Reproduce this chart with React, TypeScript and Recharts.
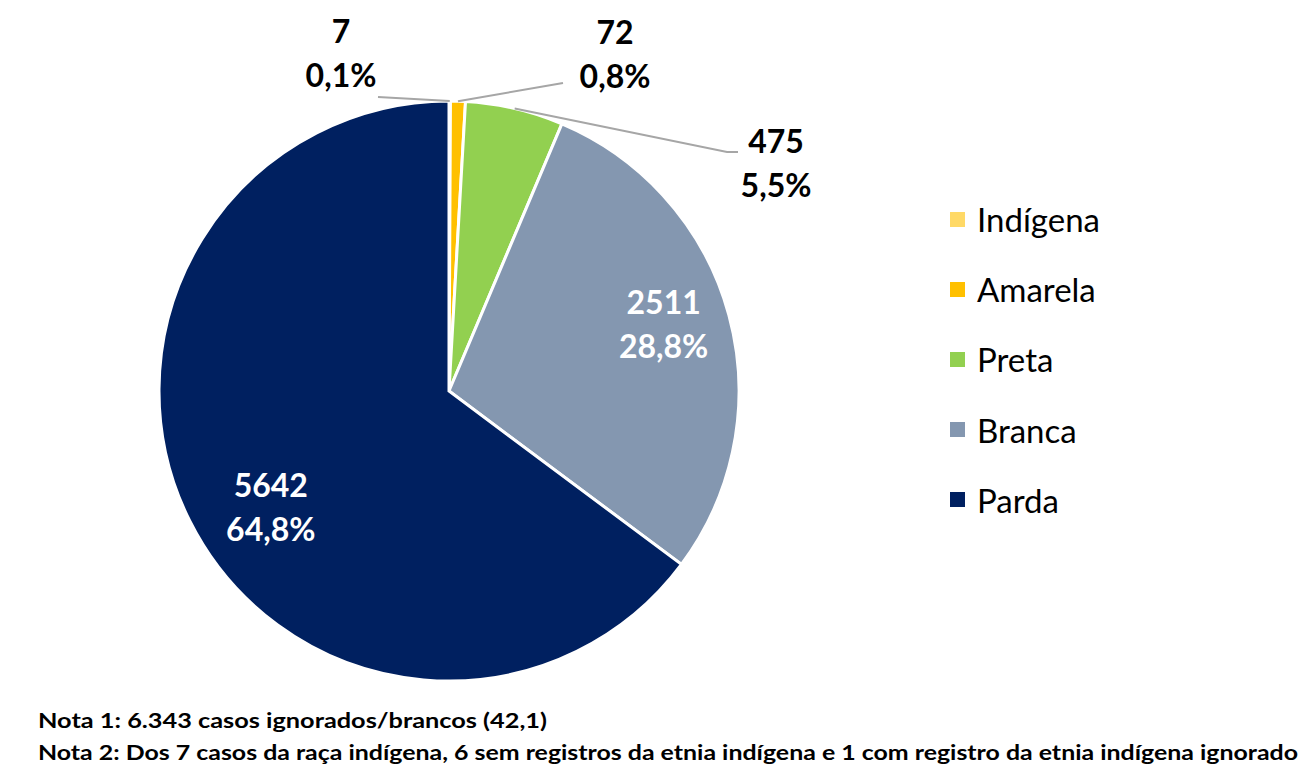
import { PieChart, Pie, Cell, Legend } from "recharts";

// casos por raça/cor
const categories = ["Indígena", "Amarela", "Preta", "Branca", "Parda"];
const casos = [7, 72, 475, 2511, 5642];
const colors = ["#FFD966", "#FFC000", "#92D050", "#8497B0", "#002060"];
const notes = [
  "Nota 1: 6.343 casos ignorados/brancos (42,1)",
  "Nota 2: Dos 7 casos da raça indígena, 6 sem registros da etnia indígena e 1 com registro da etnia indígena ignorado",
];

const pieData = categories.map((name, i) => ({ name, value: casos[i] }));

// label placement (offsets from pie centre), hand-moved like in the original
type LabelPos =
  | { outside: true; tx: number; ty: number; ex: number; ey: number; tail?: number }
  | { outside?: false; r: number; da: number };

const LABEL_POS: LabelPos[] = [
  { outside: true, tx: -108, ty: -339, ex: -71, ey: -294 },
  { outside: true, tx: 166, ty: -338, ex: 114, ey: -308 },
  { outside: true, tx: 327, ty: -229, ex: 278, ey: -239, tail: 11 },
  { r: 0.776, da: 2.3 },
  { r: 0.733, da: 6.4 },
];

const FONT = "Lato, 'Open Sans', sans-serif";
const RAD = Math.PI / 180;

function fmtPct(p: number) {
  return (p * 100).toFixed(1).replace(".", ",") + "%";
}

function renderLabel(props: any) {
  const { cx, cy, midAngle, outerRadius, percent, index, value } = props;
  const pos = LABEL_POS[index];
  let x: number;
  let y: number;
  let line = null;
  let color = "#000";

  if (pos.outside) {
    const sx = cx + outerRadius * Math.cos(-midAngle * RAD);
    const sy = cy + outerRadius * Math.sin(-midAngle * RAD);
    const ex = cx + pos.ex;
    const ey = cy + pos.ey;
    const pts = `${sx},${sy} ${ex},${ey}` + (pos.tail ? ` ${ex + pos.tail},${ey}` : "");
    line = <polyline points={pts} fill="none" stroke="#A6A6A6" strokeWidth={2} />;
    x = cx + pos.tx;
    y = cy + pos.ty;
  } else {
    const a = (midAngle + pos.da) * RAD;
    const r = outerRadius * pos.r;
    x = cx + r * Math.cos(-a);
    y = cy + r * Math.sin(-a);
    color = "#fff";
  }

  return (
    <g key={`lbl-${index}`}>
      {line}
      <text
        x={x}
        y={y - 22}
        textAnchor="middle"
        dominantBaseline="central"
        fill={color}
        fontFamily={FONT}
        fontWeight={700}
        fontSize={32}
      >
        {value}
      </text>
      <text
        x={x}
        y={y + 22}
        textAnchor="middle"
        dominantBaseline="central"
        fill={color}
        fontFamily={FONT}
        fontWeight={700}
        fontSize={32}
      >
        {fmtPct(percent)}
      </text>
    </g>
  );
}

function renderLegend() {
  return (
    <div style={{ fontFamily: FONT, fontSize: 33, color: "#000" }}>
      {categories.map((c, i) => (
        <div key={c} style={{ display: "flex", alignItems: "center", height: 70.2 }}>
          <span
            style={{
              width: 15,
              height: 15,
              background: colors[i],
              display: "inline-block",
              marginRight: 12,
            }}
          />
          <span>{c}</span>
        </div>
      ))}
    </div>
  );
}

export default function App() {
  return (
    <div style={{ position: "absolute", left: 0, top: 0, width: 1301, height: 768, background: "#fff" }}>
      <PieChart width={1301} height={700} margin={{ top: 0, right: 0, bottom: 0, left: 0 }}>
        <Pie
          data={pieData}
          dataKey="value"
          nameKey="name"
          cx={449}
          cy={391}
          outerRadius={290}
          startAngle={90}
          endAngle={-270}
          stroke="#fff"
          strokeWidth={3}
          label={renderLabel}
          labelLine={false}
          isAnimationActive={false}
        >
          {pieData.map((d, i) => (
            <Cell key={d.name} fill={colors[i]} />
          ))}
        </Pie>
        <Legend
          content={renderLegend}
          layout="vertical"
          wrapperStyle={{ position: "absolute", left: 950, top: 184, width: 320 }}
        />
      </PieChart>
      <svg width={1301} height={68} style={{ position: "absolute", left: 0, top: 700 }}>
        <text x={38} y={28} fontFamily={FONT} fontWeight={700} fontSize={21} textLength={509} lengthAdjust="spacingAndGlyphs">
          {notes[0]}
        </text>
        <text x={38} y={60} fontFamily={FONT} fontWeight={700} fontSize={21} textLength={1260} lengthAdjust="spacingAndGlyphs">
          {notes[1]}
        </text>
      </svg>
    </div>
  );
}
